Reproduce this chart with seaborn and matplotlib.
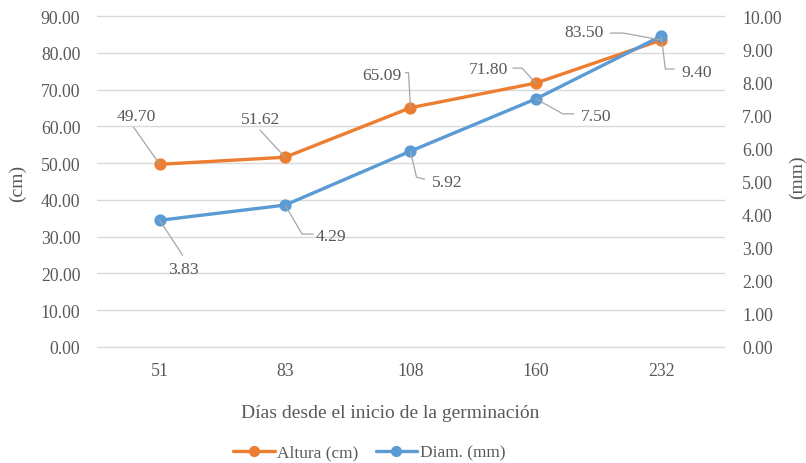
import matplotlib
matplotlib.use("Agg")
import matplotlib.pyplot as plt
from matplotlib.lines import Line2D
import seaborn as sns
import pandas as pd

# Days since germination (categorical x axis)
dias = ["51", "83", "108", "160", "232"]
# Plant height (cm), left axis
altura = [49.70, 51.62, 65.09, 71.80, 83.50]
# Stem diameter (mm), right axis
diametro = [3.83, 4.29, 5.92, 7.50, 9.40]

left_ticks = [0, 10, 20, 30, 40, 50, 60, 70, 80, 90]
right_ticks = [0, 1, 2, 3, 4, 5, 6, 7, 8, 9, 10]

ORANGE = "#ED7D31"
BLUE = "#5B9BD5"
TXT = "#595959"
GRID = "#D9D9D9"
LEADER = "#A6A6A6"

sns.set_theme(style="white")
plt.rcParams["font.family"] = ["Liberation Serif", "DejaVu Serif"]

df = pd.DataFrame({"dias": dias, "altura": altura, "diametro": diametro})

fig = plt.figure(figsize=(8.06, 4.64), dpi=100)
ax = fig.add_axes([0.1203, 0.25, 0.778, 0.713])
ax2 = ax.twinx()

sns.pointplot(data=df, x="dias", y="altura", color=ORANGE, ax=ax,
              markers="o", markersize=7, linewidth=2.4, order=dias)
sns.pointplot(data=df, x="dias", y="diametro", color=BLUE, ax=ax2,
              markers="o", markersize=7, linewidth=2.4, order=dias)

ax.set_xlim(-0.5, len(dias) - 0.5)
ax.set_ylim(0, 90)
ax2.set_ylim(0, 10)
ax.set_yticks(left_ticks)
ax.set_yticklabels([f"{v:.2f}" for v in left_ticks])
ax2.set_yticks(right_ticks)
ax2.set_yticklabels([f"{v:.2f}" for v in right_ticks])

ax.yaxis.grid(True, color=GRID, linewidth=1.0)
for gl in ax.get_ygridlines():
    gl.set_clip_on(False)
ax.set_axisbelow(True)
ax2.grid(False)
for a in (ax, ax2):
    for s in a.spines.values():
        s.set_visible(False)
    a.tick_params(axis="both", length=0, labelsize=12.8, labelcolor=TXT)
ax.tick_params(axis="y", pad=12)
ax2.tick_params(axis="y", pad=13)
ax.tick_params(axis="x", pad=11)

ax.set_xlabel("Días desde el inicio de la germinación", fontsize=14, color=TXT)
ax.xaxis.set_label_coords(0.467, -0.172)
ax.set_ylabel("")
ax2.set_ylabel("")
fig.text(0.022, 0.605, "(cm)", rotation=90, ha="center", va="center",
         fontsize=14, color=TXT)
fig.text(0.990, 0.618, "(mm)", rotation=90, ha="center", va="center",
         fontsize=14, color=TXT)

# Data labels: text offset and leader path, in pixels from the marker
alt_labels = [
    ((-23, 48), [(0, 0), (-26, 37)]),
    ((-25, 38), [(0, 0), (-25, 27)]),
    ((-29, 33), [(0, 0), (-2, 35), (-5, 35)]),
    ((-47, 14), [(0, 0), (-14, 15), (-23, 15)]),
    ((-77, 8), [(0, 0), (-38, 7), (-51, 7)]),
]
dia_labels = [
    ((24, -49), [(0, 0), (23, -35)]),
    ((46, -31), [(0, 0), (17, -29), (28, -29)]),
    ((37, -31), [(0, 0), (6, -26), (14, -28)]),
    ((60, -17), [(0, 0), (27, -15), (38, -15)]),
    ((35, -36), [(0, 0), (4, -33), (13, -33)]),
]


def label_point(axis, i, v, text_off, path):
    px = 72.0 / fig.dpi
    base = axis.transData.transform((i, v))
    line = Line2D([base[0] + p[0] for p in path], [base[1] + p[1] for p in path],
                  color=LEADER, lw=0.9, zorder=1, transform=None)
    fig.add_artist(line)
    axis.annotate(f"{v:.2f}", xy=(i, v),
                  xytext=(text_off[0] * px, text_off[1] * px),
                  textcoords="offset points", ha="center", va="center",
                  fontsize=12.6, color=TXT, zorder=5)


fig.canvas.draw()
for i, (v, (toff, path)) in enumerate(zip(altura, alt_labels)):
    label_point(ax, i, v, toff, path)
for i, (v, (toff, path)) in enumerate(zip(diametro, dia_labels)):
    label_point(ax2, i, v, toff, path)

handles = [
    Line2D([0], [0], color=ORANGE, lw=2.4, marker="o", markersize=7),
    Line2D([0], [0], color=BLUE, lw=2.4, marker="o", markersize=7),
]
fig.legend(handles, ["Altura (cm)", "Diam. (mm)"], loc="center",
           bbox_to_anchor=(0.458, 0.022), ncol=2, frameon=False,
           fontsize=12.4, labelcolor=TXT, handlelength=2.4, handletextpad=0.15,
           columnspacing=1.0)

fig.savefig("out.png", dpi=100)
